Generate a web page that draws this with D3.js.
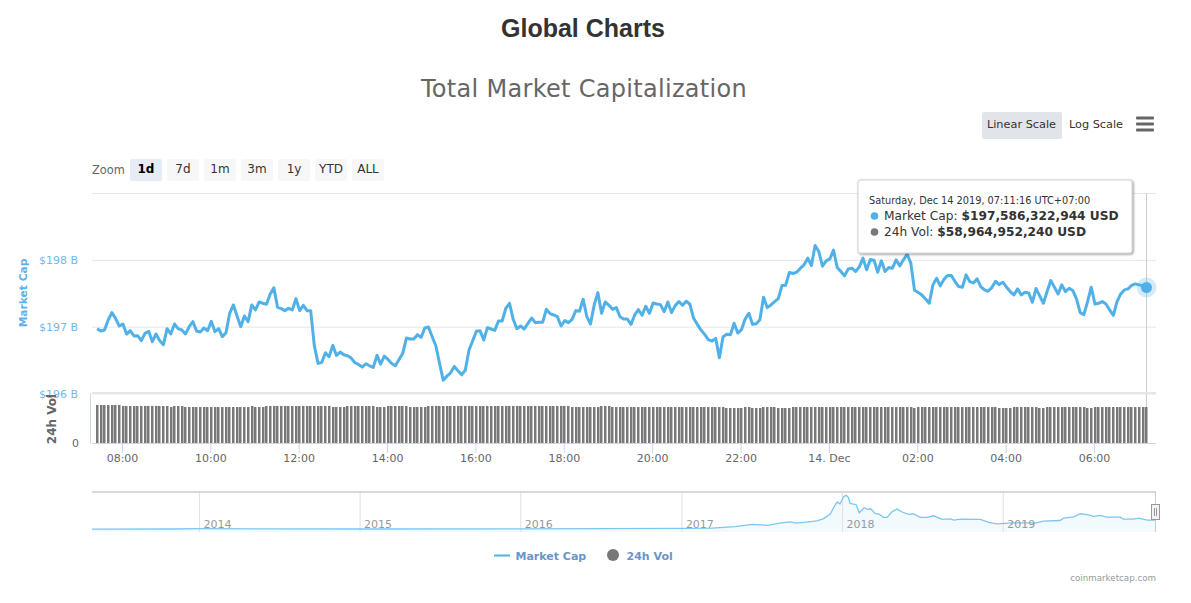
<!DOCTYPE html>
<html>
<head>
<meta charset="utf-8">
<script src="https://cdn.jsdelivr.net/npm/d3@7"></script>
<style>
  html, body { margin: 0; padding: 0; background: #fff; }
  text { font-family: "DejaVu Sans", sans-serif; }
</style>
</head>
<body>
<div id="container"></div>
<script>
// market cap, $B, one reading every 5 minutes
const capValues = [
  196.97,196.935,196.95,197.10,197.21,197.125,197.01,197.04,196.89,196.94,
  196.86,196.865,196.79,196.90,196.93,196.775,196.89,196.79,196.73,196.97,
  196.89,197.04,196.97,196.95,196.89,197.00,197.075,196.935,196.92,196.98,
  196.94,197.08,196.925,196.97,196.85,196.91,197.20,197.325,197.16,197.00,
  197.16,197.075,197.325,197.25,197.37,197.35,197.335,197.49,197.58,197.29,
  197.27,197.24,197.275,197.25,197.42,197.24,197.32,197.24,197.24,196.71,
  196.45,196.465,196.61,196.55,196.72,196.57,196.62,196.58,196.565,196.53,
  196.46,196.435,196.395,196.445,196.415,196.39,196.57,196.44,196.56,196.51,
  196.45,196.415,196.51,196.60,196.83,196.815,196.815,196.88,196.84,196.98,
  196.995,196.85,196.71,196.45,196.20,196.26,196.31,196.405,196.34,196.28,
  196.35,196.65,196.79,196.93,196.94,196.80,196.985,196.965,196.945,197.085,
  197.085,197.275,197.35,197.11,196.97,197.01,196.965,197.05,197.13,197.06,
  197.065,197.065,197.26,197.195,197.175,197.15,197.01,197.09,197.06,197.11,
  197.24,197.23,197.41,197.15,197.04,197.325,197.51,197.20,197.37,197.32,
  197.26,197.285,197.15,197.115,197.115,197.035,197.175,197.255,197.17,197.305,
  197.20,197.355,197.34,197.33,197.225,197.37,197.21,197.315,197.375,197.32,
  197.38,197.335,197.125,197.035,196.95,196.885,196.805,196.785,196.825,196.535,
  196.85,196.885,196.88,197.05,196.905,196.955,197.115,197.20,197.035,197.045,
  197.105,197.44,197.285,197.325,197.375,197.42,197.615,197.62,197.81,197.795,
  197.815,197.875,197.925,198.025,197.915,198.215,198.125,197.905,197.985,198.015,
  198.145,197.885,197.825,197.76,197.865,197.875,197.825,197.895,198.025,197.85,
  198.005,197.995,197.815,197.985,197.825,197.885,197.875,198.00,197.91,198.00,
  198.085,197.95,197.545,197.51,197.475,197.415,197.35,197.625,197.725,197.61,
  197.71,197.765,197.765,197.675,197.60,197.59,197.775,197.675,197.655,197.715,
  197.60,197.55,197.53,197.585,197.68,197.63,197.665,197.59,197.525,197.475,
  197.565,197.475,197.515,197.505,197.365,197.57,197.46,197.35,197.525,197.69,
  197.59,197.49,197.625,197.525,197.575,197.54,197.415,197.21,197.18,197.375,
  197.59,197.34,197.35,197.375,197.34,197.25,197.17,197.375,197.49,197.55,
  197.565,197.62,197.64,197.625,197.61,197.586
];

// 24h volume, $B, same readings
const volValues = [
  62.3,62.3,62.3,62.3,62.3,62.3,62.3,60.7,60.7,60.7,
  60.7,60.7,60.7,60.7,60.7,60.7,60.7,60.7,60.7,60.7,
  59.0,60.7,60.7,60.7,59.0,59.0,59.0,59.0,59.0,59.0,
  59.0,59.0,59.0,59.0,59.0,59.0,59.0,59.0,59.0,59.0,
  59.0,59.0,60.7,59.0,59.0,59.0,60.7,60.7,60.7,60.7,
  60.7,60.7,60.7,60.7,60.7,60.7,60.7,60.7,60.7,60.7,
  60.7,60.7,60.7,60.7,59.0,59.0,59.0,59.0,60.7,60.7,
  60.7,60.7,60.7,60.7,60.7,60.7,59.0,59.0,59.0,60.7,
  60.7,60.7,60.7,60.7,60.7,59.0,59.0,59.0,59.0,59.0,
  60.7,60.7,60.7,60.7,60.7,60.7,60.7,60.7,60.7,60.7,
  60.7,60.7,60.7,60.7,60.7,60.7,60.7,60.7,60.7,60.7,
  60.7,60.7,60.7,60.7,60.7,60.7,60.7,60.7,60.7,60.7,
  60.7,60.7,60.7,60.7,60.7,60.7,60.7,60.7,60.7,59.0,
  59.0,59.0,59.0,59.0,59.0,59.0,59.0,60.7,60.7,60.7,
  59.0,59.0,59.0,59.0,59.0,59.0,59.0,59.0,59.0,59.0,
  59.0,59.0,59.0,59.0,59.0,59.0,59.0,59.0,59.0,59.0,
  59.0,59.0,59.0,59.0,59.0,59.0,59.0,59.0,59.0,59.0,
  59.0,57.4,57.4,57.4,57.4,57.4,59.0,59.0,57.4,57.4,
  57.4,59.0,59.0,59.0,59.0,57.4,57.4,57.4,57.4,59.0,
  59.0,59.0,59.0,59.0,59.0,59.0,59.0,59.0,59.0,59.0,
  59.0,59.0,59.0,59.0,59.0,59.0,59.0,59.0,59.0,59.0,
  59.0,59.0,59.0,59.0,59.0,59.0,59.0,59.0,59.0,59.0,
  59.0,59.0,57.4,59.0,59.0,59.0,59.0,59.0,59.0,59.0,
  59.0,59.0,59.0,59.0,59.0,59.0,59.0,59.0,59.0,59.0,
  59.0,59.0,59.0,59.0,59.0,57.4,57.4,57.4,57.4,59.0,
  59.0,59.0,59.0,59.0,59.0,59.0,57.4,57.4,59.0,59.0,
  59.0,59.0,59.0,59.0,59.0,59.0,59.0,59.0,59.0,57.4,
  57.4,59.0,59.0,59.0,59.0,59.0,59.0,59.0,59.0,59.0,
  59.0,59.0,59.0,59.0,59.0,58.96
];

const lastReading = new Date("2019-12-14T07:11:16Z");
const readingStep = 5 * 60 * 1000;
const capTicks = [196, 197, 198, 199];
const hourTicks = [
  "2019-12-13T08:00:00Z","2019-12-13T10:00:00Z","2019-12-13T12:00:00Z","2019-12-13T14:00:00Z",
  "2019-12-13T16:00:00Z","2019-12-13T18:00:00Z","2019-12-13T20:00:00Z","2019-12-13T22:00:00Z",
  "2019-12-14T00:00:00Z","2019-12-14T02:00:00Z","2019-12-14T04:00:00Z","2019-12-14T06:00:00Z"
];

// overview strip, all time market cap
const navDates = [
  "2013-05-02","2013-11-01","2014-01-05","2014-06-01","2015-01-15","2016-01-01","2016-07-01",
  "2017-01-01","2017-03-10","2017-05-01","2017-06-10","2017-07-15","2017-08-11","2017-09-03",
  "2017-09-18","2017-10-11","2017-11-03","2017-11-18","2017-12-04","2017-12-15","2017-12-20",
  "2017-12-26","2018-01-03","2018-01-09","2018-01-14","2018-01-18","2018-02-01","2018-02-08",
  "2018-02-19","2018-02-27","2018-03-06","2018-03-16","2018-03-26","2018-04-04","2018-04-12",
  "2018-04-23","2018-05-05","2018-05-15","2018-05-31","2018-06-10","2018-06-27","2018-07-12",
  "2018-07-27","2018-08-15","2018-09-03","2018-09-11","2018-09-26","2018-11-10","2018-11-29",
  "2018-12-17","2019-01-24","2019-03-17","2019-04-02","2019-05-10","2019-05-18","2019-06-10",
  "2019-06-25","2019-07-14","2019-07-25","2019-08-09","2019-08-24","2019-09-24","2019-10-01",
  "2019-10-24","2019-11-05","2019-11-24","2019-12-14"
];
const navCaps = [
  2,5,12,8,5,7,12,
  18,25,60,115,95,146,179,
  146,171,203,252,366,586,659,
  610,789,821,773,626,594,398,
  520,480,496,382,358,285,285,
  423,488,423,358,374,285,285,
  325,236,252,220,244,236,163,
  130,155,155,195,211,268,301,
  374,350,309,333,293,293,244,
  244,268,220,220
];
const navYears = ["2014","2015","2016","2017","2018","2019"];

const zoomLabels = ["1d","7d","1m","3m","1y","YTD","ALL"];
const scaleLabels = ["Linear Scale","Log Scale"];

const width = 1191;
const height = 603;
const left = 92;
const right = 1156;
const capBlue = "#4fb1e8";
const volGrey = "#787878";

const svg = d3.select("#container").append("svg")
  .attr("width", width)
  .attr("height", height)
  .style("display", "block");

const times = capValues.map((v, i) => new Date(+lastReading - (capValues.length - 1 - i) * readingStep));

const x = d3.scaleUtc()
  .domain([new Date("2019-12-13T07:19:17Z"), new Date("2019-12-14T07:24:12Z")])
  .range([left, right]);
const yCap = d3.scaleLinear().domain([196, 199]).range([393.5, 193]);
const yVol = d3.scaleLinear().domain([0, 82]).range([443, 393]);
const xNav = d3.scaleUtc()
  .domain([new Date("2013-05-02"), new Date("2019-12-14")])
  .range([left, right]);
const yNav = d3.scaleLinear().domain([-68, 902]).range([532, 492]);

// titles
svg.append("text").attr("x", 583).attr("y", 37).attr("text-anchor", "middle")
  .style("font-family", "'Liberation Sans', Arial, sans-serif")
  .style("font-weight", "bold").style("font-size", "25px").attr("fill", "#333")
  .text("Global Charts");
svg.append("text").attr("x", 584).attr("y", 97).attr("text-anchor", "middle")
  .style("font-size", "24px").style("letter-spacing", "0.3px").attr("fill", "#666")
  .text("Total Market Capitalization");

// range buttons
svg.append("text").attr("x", 92).attr("y", 174).style("font-size", "11.4px").attr("fill", "#666").text("Zoom");
const zoomBtn = svg.selectAll(".zoom-btn").data(zoomLabels).enter().append("g")
  .attr("class", "zoom-btn")
  .attr("transform", (d, i) => `translate(${130 + i * 37},159)`);
zoomBtn.append("rect").attr("width", 32).attr("height", 22).attr("rx", 2)
  .attr("fill", (d, i) => i === 0 ? "#e6ebf5" : "#f7f7f7");
zoomBtn.append("text").attr("x", 16).attr("y", 14).attr("text-anchor", "middle")
  .style("font-size", "12px")
  .style("font-weight", (d, i) => i === 0 ? "bold" : "normal")
  .attr("fill", (d, i) => i === 0 ? "#000" : "#333")
  .text(d => d);

// scale buttons and menu
svg.append("rect").attr("x", 982).attr("y", 112).attr("width", 80).attr("height", 27).attr("rx", 2).attr("fill", "#e1e4e8");
svg.selectAll(".scale-btn").data(scaleLabels).enter().append("text")
  .attr("class", "scale-btn")
  .attr("x", (d, i) => i === 0 ? 1021.5 : 1096)
  .attr("y", 128).attr("text-anchor", "middle")
  .style("font-size", "11.3px").attr("fill", "#333")
  .text(d => d);
svg.selectAll(".menu-bar").data([118, 124, 130]).enter().append("rect")
  .attr("class", "menu-bar")
  .attr("x", 1136).attr("y", d => d - 1.5).attr("width", 18).attr("height", 3).attr("rx", 1).attr("fill", "#666");

// market cap axis with grid
const capAxis = svg.append("g")
  .attr("transform", `translate(${right},0)`)
  .call(d3.axisLeft(yCap).tickValues(capTicks).tickSize(right - left).tickFormat(d => d === 199 ? "" : `$${d} B`));
capAxis.select(".domain").remove();
capAxis.selectAll("line").attr("stroke", "#e6e6e6");
capAxis.selectAll("text").attr("x", -(right - 78)).attr("fill", "#74b8ee").style("font-size", "11px");

svg.append("text").attr("transform", "translate(27,293) rotate(-90)").attr("text-anchor", "middle")
  .style("font-size", "10.7px").style("font-weight", "bold").attr("fill", "#5cb2ea").text("Market Cap");

// crosshair goes under the marks
svg.append("line").attr("x1", x(lastReading)).attr("x2", x(lastReading)).attr("y1", 193).attr("y2", 443)
  .attr("stroke", "#ccc");

// volume bars
svg.append("line").attr("x1", left).attr("x2", right).attr("y1", 393).attr("y2", 393)
  .attr("stroke", "#e6e6e6").attr("stroke-width", 2);
svg.selectAll(".vol").data(volValues).enter().append("rect")
  .attr("class", "vol")
  .attr("x", (d, i) => Math.round(x(times[i]) - 1.25))
  .attr("width", 2.5)
  .attr("y", d => yVol(d))
  .attr("height", d => yVol(0) - yVol(d))
  .attr("fill", volGrey);

const volAxis = svg.append("g")
  .attr("transform", "translate(90,0)")
  .call(d3.axisLeft(yVol).tickValues([0]).tickSize(0));
volAxis.select(".domain").attr("stroke", "#ccd6eb");
volAxis.selectAll("text").attr("x", -11).attr("fill", "#666").style("font-size", "11px");
svg.append("text").attr("transform", "translate(56,419) rotate(-90)").attr("text-anchor", "middle")
  .style("font-size", "12px").style("font-weight", "bold").attr("fill", "#666").text("24h Vol");

// time axis
const timeAxis = svg.append("g")
  .attr("transform", "translate(0,443)")
  .call(d3.axisBottom(x)
    .tickValues(hourTicks.map(d => new Date(d)))
    .tickSize(10)
    .tickPadding(0)
    .tickFormat(d => d.getUTCHours() === 0 ? "14. Dec" : d3.utcFormat("%H:%M")(d)));
timeAxis.select(".domain").attr("d", `M${left},0.5H${right}`).attr("stroke", "#ccd6eb");
timeAxis.selectAll("line").attr("stroke", "#ccd6eb");
timeAxis.selectAll("text").attr("y", 11).attr("fill", "#666").style("font-size", "11px");

// market cap line
const capLine = d3.line().x((d, i) => x(times[i])).y(d => yCap(d));
svg.append("path").datum(capValues)
  .attr("fill", "none")
  .attr("stroke", capBlue)
  .attr("stroke-width", 3)
  .attr("stroke-linejoin", "round")
  .attr("d", capLine);

// hover marker
const lastCap = capValues[capValues.length - 1];
svg.append("circle").attr("cx", x(lastReading)).attr("cy", yCap(lastCap)).attr("r", 10)
  .attr("fill", capBlue).attr("opacity", 0.25);
svg.append("circle").attr("cx", x(lastReading)).attr("cy", yCap(lastCap)).attr("r", 5.5)
  .attr("fill", capBlue);

// tooltip
const shadow = svg.append("defs").append("filter").attr("id", "tipShadow");
shadow.append("feDropShadow").attr("dx", 1).attr("dy", 1).attr("stdDeviation", 1).attr("flood-opacity", 0.45);
const tip = svg.append("g").attr("transform", "translate(858,180)");
tip.append("rect").attr("width", 274).attr("height", 73).attr("rx", 2)
  .attr("fill", "#fff").attr("stroke", "#d0d0d0").attr("filter", "url(#tipShadow)");
tip.append("text").attr("x", 11).attr("y", 24).style("font-size", "9.75px").attr("fill", "#333")
  .text("Saturday, Dec 14 2019, 07:11:16 UTC+07:00");
tip.append("circle").attr("cx", 16.5).attr("cy", 36).attr("r", 3.8).attr("fill", capBlue);
const tipCap = tip.append("text").attr("x", 26).attr("y", 40).style("font-size", "12.2px").attr("fill", "#333");
tipCap.append("tspan").text("Market Cap: ");
tipCap.append("tspan").style("font-weight", "bold").text("$197,586,322,944 USD");
tip.append("circle").attr("cx", 16.5).attr("cy", 52).attr("r", 3.8).attr("fill", volGrey);
const tipVol = tip.append("text").attr("x", 26).attr("y", 56).style("font-size", "12.2px").attr("fill", "#333");
tipVol.append("tspan").text("24h Vol: ");
tipVol.append("tspan").style("font-weight", "bold").text("$58,964,952,240 USD");

// overview strip
const navPoints = navDates.map((d, i) => ({ date: new Date(d), cap: navCaps[i] }));
svg.append("path").datum(navPoints)
  .attr("fill", "#f2fafe")
  .attr("d", d3.area().x(d => xNav(d.date)).y0(532).y1(d => yNav(d.cap)));
svg.selectAll(".nav-grid").data(navYears).enter().append("line")
  .attr("class", "nav-grid")
  .attr("x1", d => xNav(new Date(d))).attr("x2", d => xNav(new Date(d)))
  .attr("y1", 492).attr("y2", 532)
  .attr("stroke", "#e0e0e0");
svg.append("path").datum(navPoints)
  .attr("fill", "none")
  .attr("stroke", "#7cc6f2")
  .attr("stroke-width", 1.3)
  .attr("d", d3.line().x(d => xNav(d.date)).y(d => yNav(d.cap)));
svg.selectAll(".nav-year").data(navYears).enter().append("text")
  .attr("class", "nav-year")
  .attr("x", d => xNav(new Date(d)) + 4).attr("y", 528)
  .style("font-size", "11px").attr("fill", "#999")
  .text(d => d);
svg.append("line").attr("x1", left).attr("x2", right).attr("y1", 492).attr("y2", 492).attr("stroke", "#ccc").attr("stroke-width", 1.5);
svg.append("line").attr("x1", right - 0.5).attr("x2", right - 0.5).attr("y1", 492).attr("y2", 532).attr("stroke", "#ccc");
svg.append("rect").attr("x", 1151.5).attr("y", 504.5).attr("width", 8).attr("height", 15)
  .attr("fill", "#f2f2f2").attr("stroke", "#999");
svg.selectAll(".grip").data([1154.5, 1156.5]).enter().append("line")
  .attr("class", "grip")
  .attr("x1", d => d).attr("x2", d => d).attr("y1", 508).attr("y2", 516).attr("stroke", "#999");

// legend
svg.append("line").attr("x1", 494).attr("x2", 510).attr("y1", 555.5).attr("y2", 555.5)
  .attr("stroke", capBlue).attr("stroke-width", 2);
svg.append("text").attr("x", 515.5).attr("y", 560).style("font-size", "11px").style("font-weight", "bold")
  .attr("fill", "#6c94c8").text("Market Cap");
svg.append("circle").attr("cx", 613).attr("cy", 555).attr("r", 6).attr("fill", volGrey);
svg.append("text").attr("x", 626.5).attr("y", 560).style("font-size", "11px").style("font-weight", "bold")
  .attr("fill", "#6c94c8").text("24h Vol");

svg.append("text").attr("x", 1156).attr("y", 581).attr("text-anchor", "end")
  .style("font-size", "8.7px").attr("fill", "#999").text("coinmarketcap.com");
</script>
</body>
</html>
